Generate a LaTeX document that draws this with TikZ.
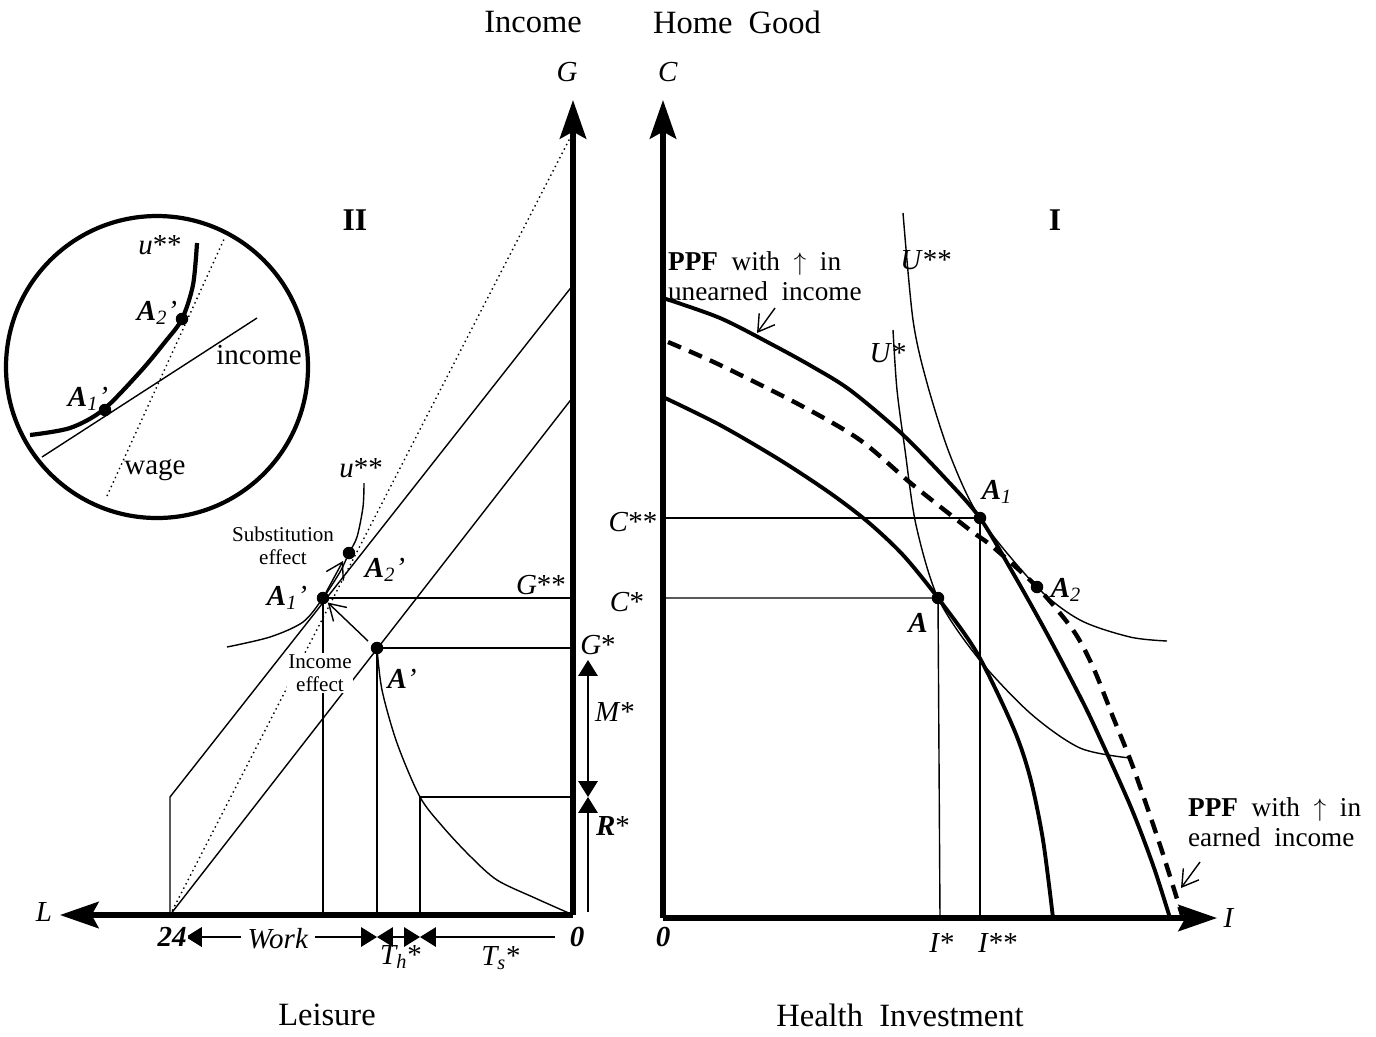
\documentclass[tikz,border=0pt]{standalone}
\usepackage{fontspec}
\setmainfont{Liberation Serif}
\usetikzlibrary{arrows.meta,calc}

\begin{document}
\begin{tikzpicture}[x=0.02cm, y=-0.02cm,
    every node/.style={font=\fontsize{16.5}{18}\selectfont, inner sep=1pt},
    axisline/.style={line width=3pt, -{Stealth[length=22pt,width=15pt,inset=4pt]}},
    thinline/.style={line width=0.8pt},
    ppfline/.style={line width=2.2pt},
    dot/.style={circle, fill=black, inner sep=0pt, minimum size=0.25cm},
    effect/.style={line width=0.8pt, -{Straight Barb[length=9pt,width=11pt]}},
    span/.style={line width=0.8pt, {Triangle[length=9pt,width=11pt]}-{Triangle[length=9pt,width=11pt]}},
    titletext/.style={font=\fontsize{18.5}{20}\selectfont},
    smalltext/.style={font=\fontsize{12}{13}\selectfont, align=center},
    ppftext/.style={font=\fontsize{15.5}{17}\selectfont, align=left}]

  \useasboundingbox (0,0) rectangle (1376,1036);

  %% Panel II: income and leisure
  \coordinate (O2) at (573,915);
  \coordinate (Gtop) at (573,100);
  \coordinate (Lend) at (60,915);
  \coordinate (T24) at (170,915);
  \coordinate (R24) at (170,797);

  \draw[dotted, thinline] (T24) -- (570,138);
  \draw[thinline] (T24) -- (R24) -- (573,285);
  \draw[thinline] (T24) -- (573,397);

  \node[dot] (A1p) at (323,598) {};
  \node[dot] (A2p) at (349,553) {};
  \node[dot] (Ap) at (377,648) {};

  \draw[thinline] (A1p.center) -- (573,598);
  \draw[thinline] (Ap.center) -- (573,648);
  \draw[thinline] (A1p.center) -- (323,915);
  \draw[thinline] (Ap.center) -- (377,915);
  \draw[thinline] (420,915) -- (420,797) -- (573,797);

  % time--health curve
  \draw[thinline] plot[smooth] coordinates {(377,648) (382,690) (397,743)
    (420,797) (443,827) (470,856) (497,880) (535,898) (571,914)};
  % indifference curve u**
  \draw[thinline] plot[smooth] coordinates {(227,647) (270,637) (303,622)
    (323,598) (340,572) (349,553) (357,537) (363,507) (364,483)};

  \draw[effect] (A1p) -- (343,561);
  \draw[effect] (368,641) -- (A1p);

  \draw[axisline] (O2) -- (Gtop);
  \draw[axisline] (O2) -- (Lend);

  \node[titletext] at (533,22) {Income};
  \node at (567,72) {\textit{G}};
  \node[font=\fontsize{18}{20}\selectfont\bfseries] at (355,220) {II};
  \node at (44,912) {\textit{L}};
  \node at (287,598) {\textit{\textbf{A}\textsubscript{1}'}};
  \node at (385,570) {\textit{\textbf{A}\textsubscript{2}'}};
  \node at (402,679) {\textit{\textbf{A}'}};
  \node at (361,468) {\textit{u}**};
  \node[smalltext] at (283,546) {Substitution\\effect};
  \node[smalltext, fill=white] at (320,673) {Income\\effect};
  \node at (541,585) {\textit{G}**};
  \node at (598,645) {\textit{G}*};

  % M* and R*
  \draw[span] (588,797) -- (588,660);
  \draw[line width=0.8pt, -{Triangle[length=9pt,width=11pt]}] (588,912) -- (588,797);
  \node at (615,712) {\textit{M}*};
  \node at (613,826) {\textit{\textbf{R}}*};

  % time spans on the leisure axis
  \draw[line width=0.8pt, -{Triangle[length=9pt,width=11pt]}] (255,937) -- (186,937);
  \draw[span] (186,937) -- (377,937);
  \draw[span] (377,937) -- (420,937);
  \draw[line width=0.8pt, -{Triangle[length=9pt,width=11pt]}] (555,937) -- (420,937);
  \node[fill=white] at (172,937) {\textit{\textbf{24}}};
  \node[fill=white, inner sep=4pt] at (278,939) {\textit{Work}};
  \node at (401,957) {\textit{T\textsubscript{h}}*};
  \node at (501,958) {\textit{T\textsubscript{s}}*};
  \node at (577,937) {\textit{\textbf{0}}};
  \node[titletext] at (327,1015) {Leisure};

  %% inset circle
  \draw[line width=2.4pt] (157,367) circle (151);
  \draw[dotted, thinline] (107,496) -- (225,237);
  \draw[thinline] (42,457) -- (257,318);
  \draw[line width=2.4pt] plot[smooth] coordinates {(30,435) (70,428)
    (103,410) (140,372) (165,342) (182,319) (193,285) (197,243)};
  \node[dot] (A1i) at (105,410) {};
  \node[dot] (A2i) at (182,319) {};
  \node at (160,245) {\textit{u}**};
  \node at (157,313) {\textit{\textbf{A}\textsubscript{2}'}};
  \node at (88,399) {\textit{\textbf{A}\textsubscript{1}'}};
  \node at (259,355) {income};
  \node at (155,470) {wage};

  %% Panel I: home good and health investment
  \coordinate (O1) at (663,918);
  \coordinate (Ctop) at (663,100);
  \coordinate (Iend) at (1217,918);

  \node[dot] (A) at (938,598) {};
  \node[dot] (A1) at (980,518) {};
  \node[dot] (A2) at (1037,587) {};

  \draw[thinline] (663,518) -- (A1.center) -- (980,918);
  \draw[thinline] (663,598) -- (A.center) -- (940,918);

  % indifference curves
  \draw[thinline] plot[smooth] coordinates {(893,330) (897,390) (905,450)
    (916,525) (938,598) (978,658) (1030,713) (1080,748) (1130,758)};
  \draw[thinline] plot[smooth] coordinates {(903,213) (913,320) (927,383)
    (950,455) (980,518) (1037,587) (1080,620) (1130,637) (1167,641)};

  % production possibility frontiers
  \draw[ppfline] plot[smooth] coordinates {(663,397) (720,425) (780,460)
    (830,493) (868,522) (903,555) (938,598) (977,653) (1013,727)
    (1030,777) (1043,840) (1053,918)};
  \draw[ppfline] plot[smooth] coordinates {(663,298) (720,318) (773,345)
    (813,367) (850,390) (900,432) (945,478) (980,518) (1013,573)
    (1045,630) (1073,683) (1093,723) (1130,805) (1153,865) (1170,918)};
  \draw[ppfline, dash pattern=on 8pt off 5pt, line width=2.5pt]
    plot[smooth] coordinates {(668,342) (720,365) (800,405) (860,440)
    (913,485) (970,530) (993,547) (1037,587) (1073,630) (1093,667)
    (1113,717) (1133,767) (1160,845) (1182,915)};

  \draw[axisline] (O1) -- (Ctop);
  \draw[axisline] (O1) -- (Iend);

  \node[titletext] at (737,22) {Home~~Good};
  \node at (668,72) {\textit{C}};
  \node[font=\fontsize{18}{20}\selectfont\bfseries] at (1055,220) {I};
  \node at (1229,918) {\textit{I}};
  \node at (663,937) {\textit{\textbf{0}}};
  \node at (633,522) {\textit{C}**};
  \node at (627,602) {\textit{C}*};
  \node at (942,943) {\textit{I}*};
  \node at (998,943) {\textit{I}**};
  \node[titletext] at (900,1015) {Health~~Investment};
  \node at (918,623) {\textit{\textbf{A}}};
  \node at (997,492) {\textit{\textbf{A}\textsubscript{1}}};
  \node at (1066,590) {\textit{\textbf{A}\textsubscript{2}}};
  \node at (926,260) {\textit{U}**};
  \node at (888,353) {\textit{U}*};

  \node[ppftext, anchor=west] (ppfu) at (666,276)
    {\textbf{PPF}~~with~~$\uparrow$~~in\\unearned~~income};
  \draw[effect] (775,308) -- (757,333);
  \node[ppftext, anchor=west] (ppfe) at (1186,822)
    {\textbf{PPF}~~with~~$\uparrow$~~in\\earned~~income};
  \draw[effect] (1200,862) -- (1181,888);

\end{tikzpicture}
\end{document}
